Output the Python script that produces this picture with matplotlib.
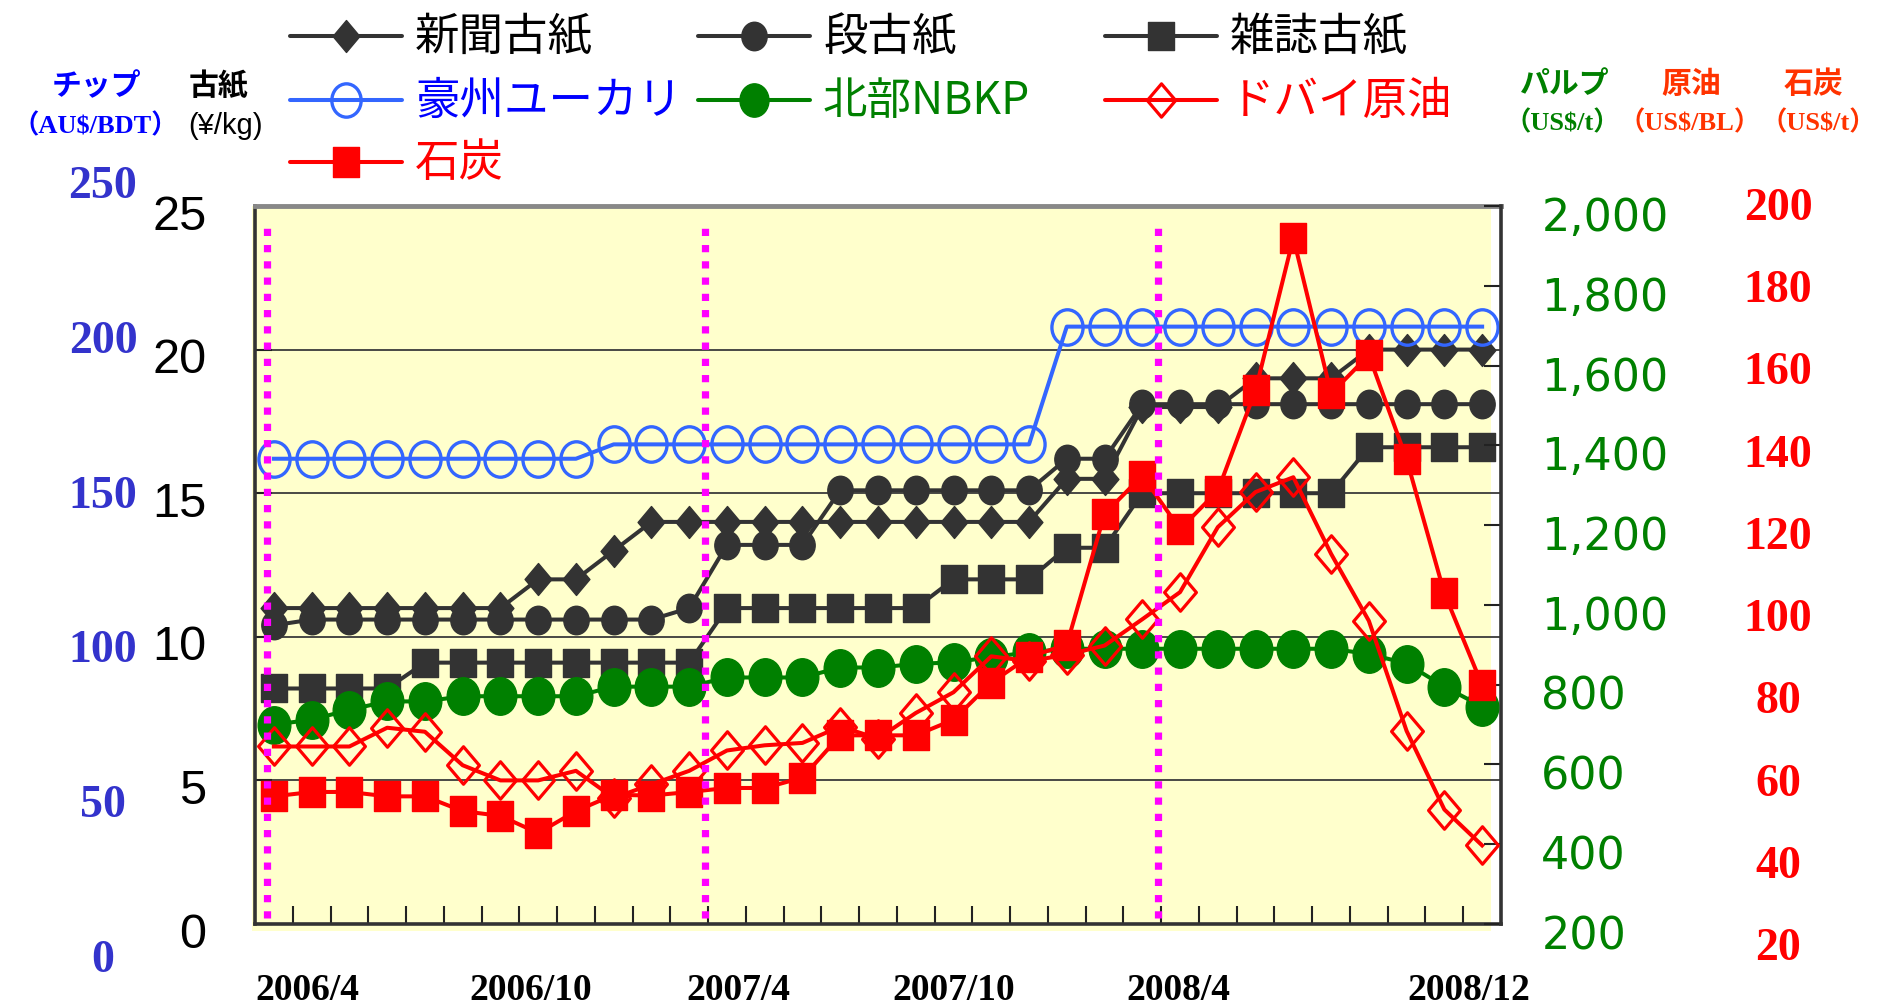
import numpy as np
import matplotlib
matplotlib.use("Agg")
import matplotlib.pyplot as plt
from matplotlib.path import Path
from matplotlib.markers import MarkerStyle
from matplotlib.patches import Rectangle
import matplotlib.transforms as mtransforms
from matplotlib import font_manager as fm

# ---------------- data ----------------
months = ["2006/4", "2006/5", "2006/6", "2006/7", "2006/8", "2006/9", "2006/10", "2006/11",
          "2006/12", "2007/1", "2007/2", "2007/3", "2007/4", "2007/5", "2007/6", "2007/7",
          "2007/8", "2007/9", "2007/10", "2007/11", "2007/12", "2008/1", "2008/2", "2008/3",
          "2008/4", "2008/5", "2008/6", "2008/7", "2008/8", "2008/9", "2008/10", "2008/11",
          "2008/12"]

# waste paper, yen/kg (left axis)
newsprint = [11, 11, 11, 11, 11, 11, 11, 12, 12, 13, 14, 14,
             14, 14, 14, 14, 14, 14, 14, 14, 14, 15.5, 15.5, 18,
             18, 18, 19, 19, 19, 20, 20, 20, 20]
corrugated = [10.4, 10.6, 10.6, 10.6, 10.6, 10.6, 10.6, 10.6, 10.6, 10.6, 10.6, 11.0,
              13.2, 13.2, 13.2, 15.1, 15.1, 15.1, 15.1, 15.1, 15.1, 16.2, 16.2, 18.1,
              18.1, 18.1, 18.1, 18.1, 18.1, 18.1, 18.1, 18.1, 18.1]
magazine = [8.2, 8.2, 8.2, 8.2, 9.1, 9.1, 9.1, 9.1, 9.1, 9.1, 9.1, 9.1,
            11, 11, 11, 11, 11, 11, 12, 12, 12, 13.1, 13.1, 15,
            15, 15, 15, 15, 15, 16.6, 16.6, 16.6, 16.6]
# eucalyptus chip, AU$/BDT
eucalyptus = [162, 162, 162, 162, 162, 162, 162, 162, 162, 167, 167, 167,
              167, 167, 167, 167, 167, 167, 167, 167, 167, 208, 208, 208,
              208, 208, 208, 208, 208, 208, 208, 208, 208]
# NBKP pulp, US$/t
nbkp = [700, 712, 737, 758, 758, 771, 771, 771, 771, 795, 795, 795,
        818, 818, 818, 843, 843, 852, 856, 869, 881, 890, 890, 890,
        890, 890, 890, 890, 890, 877, 853, 795, 745]
# Dubai crude, US$/BL
dubai = [64.5, 64.5, 64.5, 69.2, 68.2, 59.8, 56.0, 56.0, 58.4, 51.6, 55.0, 58.4,
         63.5, 64.8, 65.4, 69.5, 66.5, 72.9, 78.1, 87.1, 85.9, 87.5, 89.8, 96.4,
         103.2, 119.5, 128.3, 132.0, 112.8, 96.0, 68.4, 48.7, 39.7]
# coal, US$/t
coal = [52.0, 53.1, 53.1, 52.0, 52.0, 48.3, 47.1, 42.8, 48.3, 52.4, 52.2, 53.1,
        54.1, 54.1, 56.7, 67.3, 67.3, 67.3, 71.2, 80.5, 87.0, 90.0, 122.8, 132.4,
        119.0, 128.6, 153.8, 192.0, 153.0, 162.6, 136.5, 102.9, 79.9]

series_labels = ["新聞古紙", "段古紙", "雑誌古紙", "豪州ユーカリ", "北部NBKP", "ドバイ原油", "石炭"]

paper_ticks = [0, 5, 10, 15, 20, 25]
paper_ticklabels = ["0", "5", "10", "15", "20", "25"]
chip_ticks = [0, 50, 100, 150, 200, 250]
chip_ticklabels = ["0", "50", "100", "150", "200", "250"]
pulp_ticks = [200, 400, 600, 800, 1000, 1200, 1400, 1600, 1800, 2000]
pulp_ticklabels = ["200", "400", "600", "800", "1,000", "1,200", "1,400", "1,600", "1,800", "2,000"]
oil_ticks = [20, 40, 60, 80, 100, 120, 140, 160, 180, 200]
oil_ticklabels = ["20", "40", "60", "80", "100", "120", "140", "160", "180", "200"]
month_ticklabels = ["2006/4", "2006/10", "2007/4", "2007/10", "2008/4", "2008/12"]

# ---------------- fonts ----------------
_names = {f.name for f in fm.fontManager.ttflist}
NARROW = "Liberation Sans Narrow" if "Liberation Sans Narrow" in _names else "Liberation Sans"
NARROW_SIZE = 40 if NARROW == "Liberation Sans Narrow" else 35
CJK = "Noto Sans CJK JP"
SERIF = ["Liberation Serif", CJK]

# ---------------- colours ----------------
DARK = "#333333"
BLUE = "#3366FF"
GREEN = "#008000"
RED = "#FF0000"
ORANGE = "#FF3300"
MAGENTA = "#FF00FF"
CHIPBLUE = "#3333CC"


# ---------------- markers ----------------
def ellipse_marker(aspect):
    c = Path.unit_circle()
    return MarkerStyle(Path(c.vertices * np.array([aspect, 1.0]), c.codes))


def diamond_marker(aspect):
    v = [(0, 1), (aspect, 0), (0, -1), (-aspect, 0), (0, 1)]
    codes = [Path.MOVETO, Path.LINETO, Path.LINETO, Path.LINETO, Path.CLOSEPOLY]
    return MarkerStyle(Path(v, codes), joinstyle="miter")


def rect_marker(aspect):
    v = [(-aspect, -1), (aspect, -1), (aspect, 1), (-aspect, 1), (-aspect, -1)]
    codes = [Path.MOVETO, Path.LINETO, Path.LINETO, Path.LINETO, Path.CLOSEPOLY]
    return MarkerStyle(Path(v, codes), joinstyle="round")


styles = {
    "新聞古紙": dict(color=DARK, marker=diamond_marker(0.84), ms=23, mfc=DARK, mec=DARK, mew=1),
    "段古紙": dict(color=DARK, marker=ellipse_marker(0.89), ms=20.5, mfc=DARK, mec=DARK, mew=1),
    "雑誌古紙": dict(color=DARK, marker=rect_marker(0.93), ms=20, mfc=DARK, mec=DARK, mew=1),
    "豪州ユーカリ": dict(color=BLUE, marker=ellipse_marker(0.88), ms=25.5, mfc="none", mec=BLUE, mew=2.4),
    "北部NBKP": dict(color=GREEN, marker=ellipse_marker(0.87), ms=27, mfc=GREEN, mec=GREEN, mew=1),
    "ドバイ原油": dict(color=RED, marker=diamond_marker(0.85), ms=27, mfc="none", mec=RED, mew=2.3),
    "石炭": dict(color=RED, marker=rect_marker(0.87), ms=21.5, mfc=RED, mec=RED, mew=1),
}
LW = 2.9

# ---------------- figure ----------------
W, H, DPI = 1880, 1007, 100
fig = plt.figure(figsize=(W / DPI, H / DPI), dpi=DPI)


def fx(px):
    return px / W


def fy(py):
    return 1 - py / H


# yellow plot-area background (slightly offset as in the original)
fig.patches.append(Rectangle((fx(252), fy(931)), fx(1491) - fx(252), fy(206) - fy(931),
                             transform=fig.transFigure, facecolor="#FFFFCC",
                             edgecolor="none", zorder=-10))

L, R, T, B = 255, 1501, 206, 924
ax = fig.add_axes([fx(L), fy(B), fx(R) - fx(L), fy(T) - fy(B)])
ax.set_facecolor("none")
x = np.arange(len(months))
ax.set_xlim(-0.5, len(months) - 0.5)
ax.set_ylim(0, 25)

# left (waste paper) axis
ax.set_yticks(paper_ticks)
ax.set_yticklabels(paper_ticklabels, fontfamily=NARROW, fontsize=NARROW_SIZE)
ax.tick_params(axis="y", direction="in", length=12, width=1.5, color="#222222", pad=35)
off = mtransforms.ScaledTranslation(0, -6 / DPI, fig.dpi_scale_trans)
for lab in ax.get_yticklabels():
    lab.set_transform(lab.get_transform() + off)
ax.grid(axis="y", color="#3a3a3a", lw=1.3, zorder=1)

# category boundary ticks on the bottom axis
ax.set_xticks(np.arange(0.5, len(months) - 1, 1.0))
ax.set_xticklabels([])
ax.tick_params(axis="x", direction="in", length=13, width=1.5, color="#222222")

ax.spines["top"].set(color="#888888", lw=3.5)
ax.spines["left"].set(color=DARK, lw=2.6)
ax.spines["bottom"].set(color=DARK, lw=2.6)
ax.spines["right"].set_visible(False)

for lab, vals in zip(series_labels[:3], [newsprint, corrugated, magazine]):
    ax.plot(x, vals, lw=LW, zorder=3, clip_on=False, **styles[lab])

# month labels under the axis
month_label_pos = {"2006/4": 0.9, "2006/10": 6.8, "2007/4": 12.3,
                   "2007/10": 18.0, "2008/4": 23.95, "2008/12": 31.65}
tr = mtransforms.blended_transform_factory(ax.transData, fig.transFigure)
for m in month_ticklabels:
    ax.text(month_label_pos[m], fy(991), m, transform=tr, ha="center", va="center",
            fontfamily="Liberation Serif", fontweight="bold", fontsize=27, color="black")

# eucalyptus (AU$/BDT, same scale x10)
ax_e = ax.twinx()
ax_e.set_ylim(0, 250)
ax_e.axis("off")
ax_e.plot(x, eucalyptus, lw=LW, zorder=3, clip_on=False, **styles["豪州ユーカリ"])

# pulp axis (right)
ax2 = ax.twinx()
ax2.set_ylim(200, 2000)
ax2.set_yticks(pulp_ticks)
ax2.set_yticklabels(pulp_ticklabels, fontfamily="DejaVu Sans", fontsize=32, color=GREEN)
ax2.tick_params(axis="y", direction="in", length=12, width=1.5, color="#222222", pad=29)
off2 = mtransforms.ScaledTranslation(0, -8 / DPI, fig.dpi_scale_trans)
for lab in ax2.get_yticklabels():
    lab.set_transform(lab.get_transform() + off2)
for s in ["top", "left", "bottom"]:
    ax2.spines[s].set_visible(False)
ax2.spines["right"].set(color=DARK, lw=2.6)
ax2.plot(x, nbkp, lw=LW, zorder=3, clip_on=False, **styles["北部NBKP"])

# oil / coal (US$, pulp scale / 10)
ax3 = ax.twinx()
ax3.set_ylim(20, 200)
ax3.axis("off")
ax3.plot(x, dubai, lw=LW, zorder=3, clip_on=False, **styles["ドバイ原油"])
ax3.plot(x, coal, lw=LW, zorder=4, clip_on=False, **styles["石炭"])

# fiscal-year separators
for xb in [-0.18, 11.42, 23.41]:
    ax3.axvline(xb, ymin=0.008, ymax=0.979, color=MAGENTA, lw=5.2,
                ls=(0, (1.0, 1.25)), dash_capstyle="butt", zorder=10)

# chip axis labels (left, blue)
ax_c = fig.add_axes([fx(103), fy(956), 0.0005, fy(182) - fy(956)])
ax_c.set_ylim(0, 250)
ax_c.set_yticks(chip_ticks)
ax_c.set_yticklabels(chip_ticklabels, fontfamily="Liberation Serif", fontweight="bold",
                     fontsize=33, color=CHIPBLUE)
ax_c.tick_params(axis="y", length=0, pad=0)
for lab in ax_c.get_yticklabels():
    lab.set_horizontalalignment("center")
ax_c.set_xticks([])
for s in ax_c.spines.values():
    s.set_visible(False)
ax_c.patch.set_visible(False)

# oil/coal axis labels (far right, red)
ax_o = fig.add_axes([fx(1778), fy(944), 0.0005, fy(204) - fy(944)])
ax_o.set_ylim(20, 200)
ax_o.set_yticks(oil_ticks)
ax_o.set_yticklabels(oil_ticklabels, fontfamily="Liberation Serif", fontweight="bold",
                     fontsize=33, color=RED)
ax_o.tick_params(axis="y", length=0, pad=0)
for lab in ax_o.get_yticklabels():
    lab.set_horizontalalignment("center")
ax_o.set_xticks([])
for s in ax_o.spines.values():
    s.set_visible(False)
ax_o.patch.set_visible(False)

# overlay for legend and headers (pixel coordinates)
ov = fig.add_axes([0, 0, 1, 1], zorder=5)
ov.set_xlim(0, W)
ov.set_ylim(H, 0)
ov.axis("off")

text_colors = {"新聞古紙": "black", "段古紙": "black", "雑誌古紙": "black",
               "豪州ユーカリ": "#0000FF", "北部NBKP": GREEN, "ドバイ原油": RED, "石炭": RED}
grid_pos = {"新聞古紙": (0, 0), "段古紙": (1, 0), "雑誌古紙": (2, 0),
            "豪州ユーカリ": (0, 1), "北部NBKP": (1, 1), "ドバイ原油": (2, 1), "石炭": (0, 2)}
col_x = [290, 698, 1105]
row_y = [36, 100, 162]
for lab in series_labels:
    c, r = grid_pos[lab]
    x0, y0 = col_x[c], row_y[r]
    st = dict(styles[lab])
    ov.plot([x0, x0 + 112], [y0, y0], color=st["color"], lw=LW, solid_capstyle="round")
    ov.plot([x0 + 56], [y0], ls="none", marker=st["marker"], ms=min(st["ms"], 24), mfc=st["mfc"],
            mec=st["mec"], mew=st["mew"])
    ov.text(x0 + 125, y0 + 1, lab, fontfamily=[CJK], fontsize=32, color=text_colors[lab],
            ha="left", va="center")

# axis headers: (text, x, y, colour, family, size)
headers = [
    ("チップ", 96, 86, "#0000FF", [CJK], 21.5),
    ("（AU$/BDT）", 95, 126, "#0000FF", SERIF, 19),
    ("古紙", 219, 86, "black", [CJK], 21.5),
    ("(¥/kg)", 225, 126, "black", ["Liberation Sans"], 21),
    ("パルプ", 1565, 84, GREEN, [CJK], 21.5),
    ("（US$/t）", 1562, 123, GREEN, SERIF, 19),
    ("原油", 1691, 84, ORANGE, [CJK], 21.5),
    ("（US$/BL）", 1690, 123, ORANGE, SERIF, 19),
    ("石炭", 1813, 84, ORANGE, [CJK], 21.5),
    ("（US$/t）", 1818, 123, ORANGE, SERIF, 19),
]
for txt, hx, hy, col, fam, size in headers:
    weight = "normal" if txt == "(¥/kg)" else "bold"
    ov.text(hx, hy, txt, fontfamily=fam, fontsize=size, fontweight=weight, color=col,
            ha="center", va="center")

fig.savefig("out.png", dpi=DPI)
